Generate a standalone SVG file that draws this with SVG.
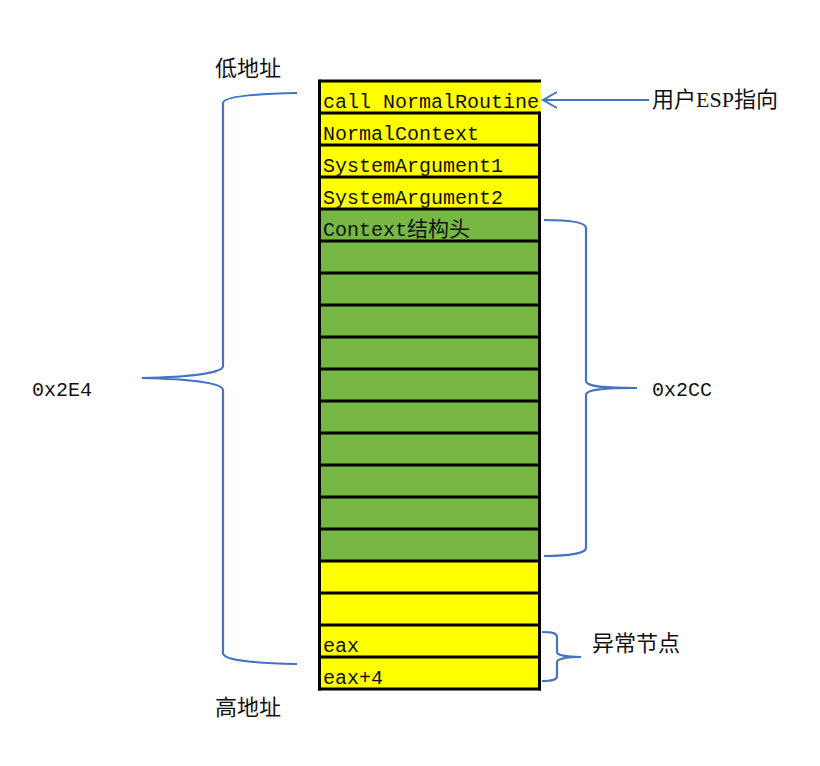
<svg xmlns="http://www.w3.org/2000/svg" width="820" height="766" viewBox="0 0 820 766">
<defs>
<style>
.y{fill:#FFFF00}
.g{fill:#76B843}
.ln{stroke:#000;stroke-width:3;fill:none}
.br{stroke:#4472C4;stroke-width:2.2;fill:none}
.ct{font-family:"Liberation Mono","Noto Sans CJK SC",monospace;font-size:20px;fill:#111}
.cj{font-family:"Noto Sans CJK SC",sans-serif;font-size:21px}
.lb{font-family:"Liberation Serif","Noto Sans CJK SC",serif;font-size:22px;fill:#111}
.hx{font-family:"Liberation Mono",monospace;font-size:20px;fill:#111}
</style>
<marker id="arr" markerWidth="20" markerHeight="20" refX="15" refY="10" orient="auto" markerUnits="userSpaceOnUse">
<path d="M1,2 L15,10 L1,18" fill="none" stroke="#4472C4" stroke-width="2"/>
</marker>
</defs>
<rect width="820" height="766" fill="#fff"/>
<g id="stack">
<rect class="y" x="319.5" y="81" width="221" height="128"/>
<rect class="g" x="319.5" y="209" width="220" height="352"/>
<rect class="y" x="319.5" y="561" width="220" height="128"/>
<path class="ln" d="M319.5,81 H541 M319.5,113 H539.5 M319.5,145 H539.5 M319.5,177 H539.5 M319.5,209 H539.5 M319.5,241 H539.5 M319.5,273 H539.5 M319.5,305 H539.5 M319.5,337 H539.5 M319.5,369 H539.5 M319.5,401 H539.5 M319.5,433 H539.5 M319.5,465 H539.5 M319.5,497 H539.5 M319.5,529 H539.5 M319.5,561 H539.5 M319.5,593 H539.5 M319.5,625 H539.5 M319.5,657 H539.5 M318,689 H541"/>
<path class="ln" d="M319.5,79.5 V690.5 M539.5,111.5 V690.5"/>
<text class="ct" x="323" y="108">call NormalRoutine</text>
<text class="ct" x="323" y="140">NormalContext</text>
<text class="ct" x="323" y="172">SystemArgument1</text>
<text class="ct" x="323" y="204">SystemArgument2</text>
<text class="ct" x="323" y="236">Context<tspan class="cj">结构头</tspan></text>
<text class="ct" x="323" y="652">eax</text>
<text class="ct" x="323" y="684">eax+4</text>
</g>
<g id="connectors">
<path class="br" d="M297,93 C250,94 223,97 223,103 V366 C223,373 190,377 142,378 C190,379 223,383 223,390 V653 C223,660 250,663 297,664"/>
<path class="br" d="M544,220 C570,220 586,222 586,228 V381 C586,386 600,388 637,388 C600,388 586,390 586,395 V548 C586,553 570,556 544,556"/>
<path class="br" d="M542,632 C552,632 557,633 557,637 V652 C557,655 565,657 581,657 C565,657 557,659 557,662 V676 C557,680 552,681 542,681"/>
<line class="br" x1="649" y1="100" x2="543" y2="100" marker-end="url(#arr)"/>
</g>
<g id="labels">
<text class="lb" x="215" y="76">低地址</text>
<text class="lb" x="215" y="715">高地址</text>
<text class="lb" x="652" y="107">用户ESP指向</text>
<text class="lb" x="592" y="651">异常节点</text>
<text class="hx" x="32" y="396">0x2E4</text>
<text class="hx" x="652" y="396">0x2CC</text>
</g>
</svg>
